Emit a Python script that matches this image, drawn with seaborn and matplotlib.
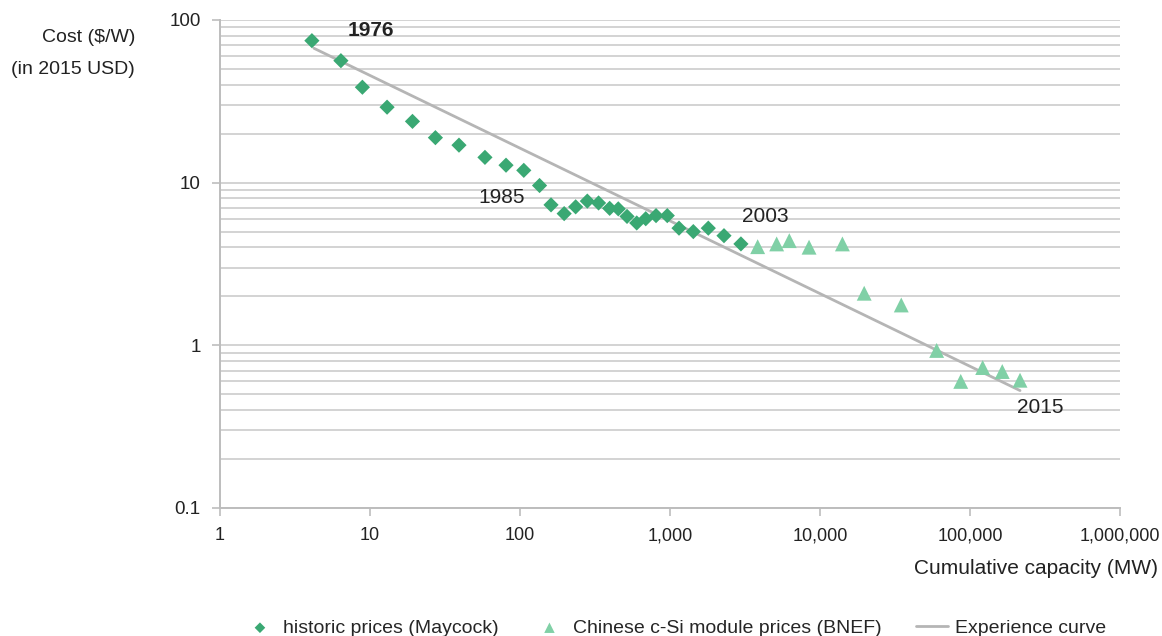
import numpy as np
import pandas as pd
import matplotlib.pyplot as plt
import seaborn as sns
from matplotlib.ticker import FixedLocator, FuncFormatter

# historic prices (Maycock): cumulative capacity (MW) vs cost ($/W, 2015 USD)
maycock_mw = [4.1, 6.4, 8.9, 13.0, 19.2, 27.3, 39.2, 58.4, 80.7, 106, 135, 161, 197,
              235, 281, 334, 396, 452, 517, 600, 689, 807, 959, 1148, 1430, 1800, 2290, 2970]
maycock_cost = [74.6, 56.2, 38.6, 29.1, 23.8, 18.9, 17.0, 14.3, 12.8, 11.9, 9.6, 7.3, 6.45,
                7.1, 7.7, 7.5, 6.95, 6.9, 6.2, 5.65, 6.0, 6.27, 6.27, 5.25, 5.0, 5.25, 4.72, 4.2]

# Chinese c-Si module prices (BNEF)
bnef_mw = [3840, 5140, 6240, 8450, 14100, 19700, 34800, 59900, 86700, 121400, 164000, 215400]
bnef_cost = [4.04, 4.2, 4.4, 4.01, 4.2, 2.09, 1.77, 0.93, 0.6, 0.73, 0.69, 0.61]

# experience curve end points
curve_mw = [4.23, 215400]
curve_cost = [67.0, 0.527]

year_labels = ["1976", "1985", "2003", "2015"]
year_mw = [7.15, 53, 3000, 205000]
year_cost = [86, 8.05, 6.15, 0.412]

sns.set_style("white")
plt.rcParams['font.family'] = ['Liberation Sans', 'DejaVu Sans']

df_hist = pd.DataFrame({'mw': maycock_mw, 'cost': maycock_cost})
df_bnef = pd.DataFrame({'mw': bnef_mw, 'cost': bnef_cost})
df_curve = pd.DataFrame({'mw': curve_mw, 'cost': curve_cost})

fig = plt.figure(figsize=(11.62, 6.36), dpi=100)
ax = fig.add_axes([0.1893, 0.2013, 0.7746, 0.7673])

grey = '#b5b5b5'
sns.lineplot(data=df_curve, x='mw', y='cost', ax=ax, color=grey, lw=2,
             label='Experience curve', zorder=3)
sns.scatterplot(data=df_hist, x='mw', y='cost', ax=ax, marker='D', s=60,
                color='#3aa873', edgecolor='none', label='historic prices (Maycock)', zorder=4)
sns.scatterplot(data=df_bnef, x='mw', y='cost', ax=ax, marker='^', s=115,
                color='#80d0a6', edgecolor='none',
                label='Chinese c-Si module prices (BNEF)', zorder=4)

ax.set_xscale('log')
ax.set_yscale('log')
ax.set_xlim(1, 1e6)
ax.set_ylim(0.1, 100)

# horizontal grid at every 1..9 x 10^k
grid_vals = [m * 10.0 ** k for k in range(-1, 2) for m in range(1, 10)] + [100]
for g in grid_vals:
    ax.axhline(g, color='#cccccc', lw=1.2, zorder=1)

ax.xaxis.set_major_locator(FixedLocator([1, 10, 100, 1e3, 1e4, 1e5, 1e6]))
ax.xaxis.set_minor_locator(FixedLocator([]))
ax.yaxis.set_major_locator(FixedLocator([0.1, 1, 10, 100]))
ax.yaxis.set_minor_locator(FixedLocator([]))
ax.xaxis.set_major_formatter(FuncFormatter(lambda v, p: f"{int(round(v)):,}"))
ax.yaxis.set_major_formatter(FuncFormatter(lambda v, p: "0.1" if v < 1 else f"{int(round(v))}"))
ax.tick_params(axis='both', which='major', length=6, width=1.2, color='#bdbdbd',
               labelsize=13, labelcolor='#222222', pad=8, direction='out',
               left=True, bottom=True)
ax.tick_params(axis='y', labelsize=13.5)

for side in ['top', 'right']:
    ax.spines[side].set_visible(False)
for side in ['left', 'bottom']:
    ax.spines[side].set_color('#bdbdbd')
    ax.spines[side].set_linewidth(1.4)

ax.set_xlabel('')
ax.set_ylabel('')
fig.text(135 / 1162, 1 - 38 / 636, 'Cost ($/W)', ha='right', va='center', fontsize=14, color='#222222')
fig.text(135 / 1162, 1 - 70 / 636, '(in 2015 USD)', ha='right', va='center', fontsize=14, color='#222222')
fig.text(1158 / 1162, 1 - 569 / 636, 'Cumulative capacity (MW)', ha='right', va='center',
         fontsize=15, color='#222222')

for i, lab in enumerate(year_labels):
    ax.text(year_mw[i], year_cost[i], lab, ha='left', va='center', fontsize=15,
            color='#222222', fontweight='bold' if i == 0 else 'normal', zorder=5)

handles, labels = ax.get_legend_handles_labels()
order = [1, 2, 0]
ax.legend([handles[i] for i in order], [labels[i] for i in order],
          loc='center', bbox_to_anchor=(0.506, -0.246), ncol=3, frameon=False,
          fontsize=14, handlelength=1.6, columnspacing=1.8, handletextpad=0.4,
          markerscale=0.7)

fig.savefig('out.png', dpi=100)
